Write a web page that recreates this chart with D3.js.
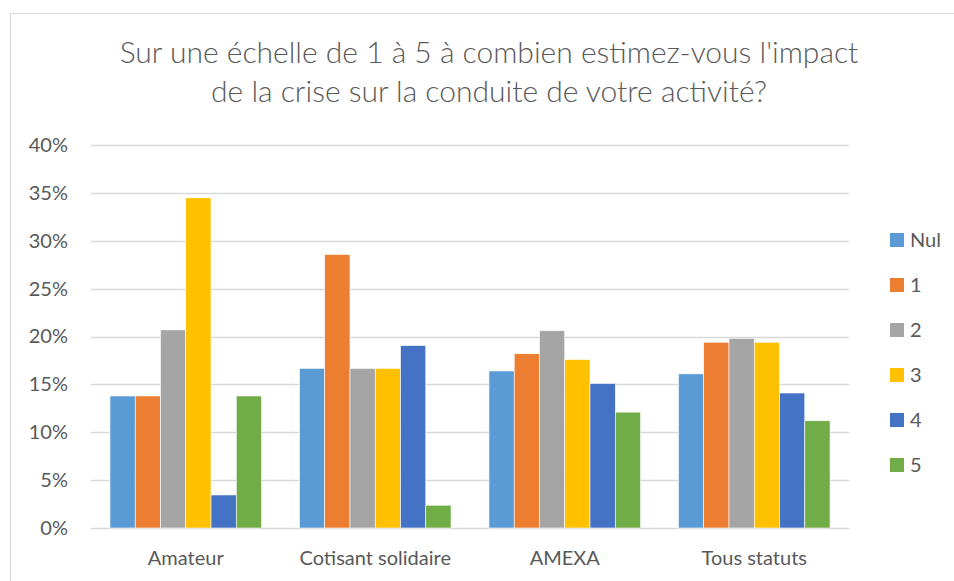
<!DOCTYPE html>
<html><head><meta charset="utf-8">
<script src="https://cdn.jsdelivr.net/npm/d3@7"></script>
<style>
html,body{margin:0;padding:0;background:#fff;}
svg{display:block;font-family:Lato,"Open Sans",sans-serif;}
</style></head>
<body><svg id="c" width="954" height="581"></svg>
<script>
const titleLines = ["Sur une échelle de 1 à 5 à combien estimez-vous l'impact", "de la crise sur la conduite de votre activité?"];
const categories = ["Amateur", "Cotisant solidaire", "AMEXA", "Tous statuts"];
const seriesNames = ["Nul", "1", "2", "3", "4", "5"];
const colors = ["#5B9BD5", "#ED7D31", "#A5A5A5", "#FFC000", "#4472C4", "#70AD47"];
const valNul = [0.1379, 0.1667, 0.164, 0.161];
const val1   = [0.1379, 0.2857, 0.182, 0.194];
const val2   = [0.2069, 0.1667, 0.206, 0.198];
const val3   = [0.3448, 0.1667, 0.176, 0.194];
const val4   = [0.0345, 0.1905, 0.151, 0.141];
const val5   = [0.1379, 0.0238, 0.121, 0.112];
const yTicks = [0, 0.05, 0.10, 0.15, 0.20, 0.25, 0.30, 0.35, 0.40];

const seriesVals = [valNul, val1, val2, val3, val4, val5];
const svg = d3.select("#c");
const txt = "#595959";
const lblSize = 20;

// chart border
svg.append("path").attr("d", "M10.5,581 V13.5 H954").attr("fill", "none").attr("stroke", "#d9d9d9").attr("stroke-width", 1);

// title
const title = svg.append("g");
titleLines.forEach((t, i) => {
  title.append("text").attr("x", 489).attr("y", 63 + i * 39).attr("text-anchor", "middle")
    .attr("fill", txt).attr("font-size", 25).attr("font-weight", 300).text(t);
});
const t0 = title.select("text").node();
const w0 = t0.getComputedTextLength();
const fs = 25 * 739 / w0;
title.selectAll("text").attr("font-size", fs);

const pLeft = 91, pRight = 849, pTop = 145, pBottom = 528;
const x = d3.scaleBand().domain(categories).range([pLeft, pRight]).paddingInner(0).paddingOuter(0);
const x1 = d3.scaleBand().domain(seriesNames).range([0, x.bandwidth() * 0.8]);
const y = d3.scaleLinear().domain([0, 0.4]).range([pBottom, pTop]);

// gridlines
svg.append("g").selectAll("line").data(yTicks).join("line")
  .attr("x1", pLeft).attr("x2", pRight)
  .attr("y1", d => Math.round(y(d)) + 0.5).attr("y2", d => Math.round(y(d)) + 0.5)
  .attr("stroke", "#d9d9d9").attr("stroke-width", 1.3);

// y axis labels
const yAxis = d3.axisLeft(y).tickValues(yTicks).tickFormat(d3.format(".0%")).tickSize(0).tickPadding(0);
const ya = svg.append("g").attr("transform", "translate(68,0)").call(yAxis);
ya.select(".domain").remove();
ya.selectAll("text").attr("fill", txt).attr("font-size", lblSize).attr("font-family", "Lato,'Open Sans',sans-serif");

// bars
const groups = svg.append("g").selectAll("g").data(categories).join("g")
  .attr("transform", c => `translate(${x(c) + x.bandwidth() * 0.1},0)`);
groups.selectAll("rect").data((c, ci) => seriesNames.map((s, si) => ({s, si, v: seriesVals[si][ci]})))
  .join("rect")
  .attr("x", d => x1(d.s)).attr("width", x1.bandwidth())
  .attr("y", d => y(d.v)).attr("height", d => pBottom - y(d.v))
  .attr("fill", d => colors[d.si])
  .attr("stroke", "#fff").attr("stroke-width", 0.6);

// x axis labels
const xAxis = d3.axisBottom(x).tickSize(0).tickPadding(0);
const xa = svg.append("g").attr("transform", `translate(0,${pBottom})`).call(xAxis);
xa.select(".domain").remove();
xa.selectAll("text").attr("fill", txt).attr("font-size", lblSize).attr("dy", null).attr("y", 37)
  .attr("font-family", "Lato,'Open Sans',sans-serif");

// legend
const lg = svg.append("g").attr("transform", "translate(890,0)");
const ly = d3.scalePoint().domain(seriesNames).range([240, 465]);
const li = lg.selectAll("g").data(seriesNames).join("g").attr("transform", d => `translate(0,${ly(d)})`);
li.append("rect").attr("x", 0).attr("y", -7).attr("width", 14).attr("height", 14).attr("fill", (d, i) => colors[i]);
li.append("text").attr("x", 20).attr("y", 0).attr("dy", "0.35em").attr("fill", txt).attr("font-size", lblSize).text(d => d);
</script></body></html>
